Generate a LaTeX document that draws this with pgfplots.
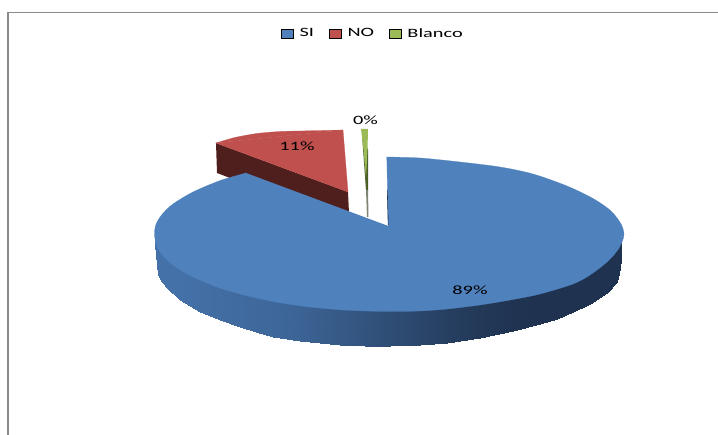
\documentclass[border=0pt]{standalone}
\usepackage{pgfplots}
\pgfplotsset{compat=1.18}
\usepackage{fontspec}
\setmainfont{Carlito}[FakeStretch=1.6]
\definecolor{bl}{RGB}{79,129,189}
\definecolor{rd}{RGB}{192,80,77}
\definecolor{gn}{RGB}{155,187,89}
\definecolor{rdw}{RGB}{79,31,29}
\definecolor{gnw}{RGB}{74,94,37}
\definecolor{frame}{RGB}{138,138,138}
\pgfplotsset{swatch/.style={legend image code/.code={\fill[##1] (0pt,-4.5pt) rectangle (12pt,4.5pt);\path (16pt,0pt);}}}
\begin{document}
\begin{tikzpicture}
\path[use as bounding box] (0,0) rectangle (718pt,435pt);
\begin{axis}[
  at={(0,0)},anchor=south west,
  width=718pt,height=435pt,scale only axis,
  xmin=0,xmax=718,ymin=0,ymax=435,y dir=reverse,
  hide axis,
  colormap={wall}{rgb255=(31,51,80) rgb255=(68,113,168)},
  point meta min=0,point meta max=1,
  legend columns=3,
  legend style={at={(axis cs:373,33.5)},anchor=center,draw=none,fill=none,font=\fontsize{12.7}{14}\selectfont,
    inner sep=0pt,
    /tikz/every even column/.append style={column sep=13pt}},
  legend cell align=left,
]
\addlegendimage{swatch,fill=bl}\addlegendentry{SI}
\addlegendimage{swatch,fill=rd}\addlegendentry{NO}
\addlegendimage{swatch,fill=gn}\addlegendentry{Blanco}
% frame
\addplot[frame,line width=1.3pt,forget plot] coordinates {(8,435) (8,12.5) (718,12.5)};
% red wall
\addplot[fill=rdw,draw=none,forget plot] coordinates {(216,143) (348,192) (349,213) (246,176) (230,178) (217,173)} -- cycle;
% red top
\addplot[fill=rd,draw=rd,line width=.25pt,forget plot,smooth] coordinates {(216,143) (235,137.5) (257,133.5) (280,131.5) (300,131) (322,130.5) (343,130)} -- cycle;
\addplot[fill=rd,draw=rd,line width=.25pt,forget plot] coordinates {(216,143) (343,130) (348,192)} -- cycle;
% green wall and top
\addplot[fill=gnw,draw=none,forget plot] coordinates {(362,135) (368,150) (368,190) (366,190)} -- cycle;
\addplot[fill=black!45!gnw!60!white,draw=none,forget plot] coordinates {(366,190) (368,190) (368.5,217) (367,217)} -- cycle;
\addplot[fill=gn,draw=none,forget plot] coordinates {(361,129) (368,129) (367.5,150) (366,178) (363.5,150)} -- cycle;
% blue wall
\addplot[surf,shader=interp,mesh/cols=2,forget plot,point meta=explicit] table[meta=c] {
x y c
155.5 238 1
155.5 245 1
157 240 1
157 265 1
158 243 1
158 275 1
162 247 1
162 282 1
167 250 1
167 288 1
180 260 1
180 300 1
200 272 .96
200 312 .96
220 279 .93
220 320 .93
240 285 .9
240 327.5 .9
256 293 .88
256 332.5 .88
273 298 .85
273 337 .85
300 303 .78
300 341 .78
340 307 .62
340 345 .62
365 308 .52
365 346 .52
390 309 .42
390 346.5 .42
420 307 .3
420 345.5 .3
447 305 .2
447 343.5 .2
480 300 .08
480 338 .08
513 294 .02
513 331 .02
540 285 0
540 324 0
557 280 0
557 319 0
573 270 0
573 312 0
590 262 0
590 304 0
607 250 0
607 293 0
617 240 0
617 282 0
620 238 0
620 268 0
622 236 0
622 248 0
};
% blue top: left arc, right arc, and the piece that joins them at the apex
\addplot[fill=bl,draw=bl,line width=.25pt,forget plot,smooth] coordinates {
(246,173) (230,177.5) (217,181.7) (193,192) (173,204) (162,214.5) (156,224.4) (154.5,234.5) (157,247) (163,255.6) (173,265) (190,275.5) (217,287) (240,294) (273,301.5) (307,306.7) (340,309.8) (365,311) (390,311.5)} -- cycle;
\addplot[fill=bl,draw=bl,line width=.25pt,forget plot,smooth] coordinates {
(390,311.5) (420,311) (447,309) (480,305) (513,299.5) (540,294) (573,284) (590,275) (607,262) (617,251) (622,242) (624,234)
(621,224) (611,211) (593,198.5) (567,186) (533,174) (500,167) (460,162) (420,158) (386.8,157)} -- cycle;
\addplot[fill=bl,draw=none,forget plot] coordinates {(246,173) (388.3,226) (400,300) (392,311) (380,311) (300,300)} -- cycle;
% slice edge shading
\addplot[black!60!bl,line width=.6pt,forget plot] coordinates {(387.3,190) (388.2,225)};
\node[font=\fontsize{12.7}{14}\selectfont] at (axis cs:297,146) {11\%};
\node[font=\fontsize{12.7}{14}\selectfont] at (axis cs:470,290) {89\%};
\node[font=\fontsize{12.7}{14}\selectfont] at (axis cs:365.5,120) {0\%};
\end{axis}
\end{tikzpicture}
\end{document}
